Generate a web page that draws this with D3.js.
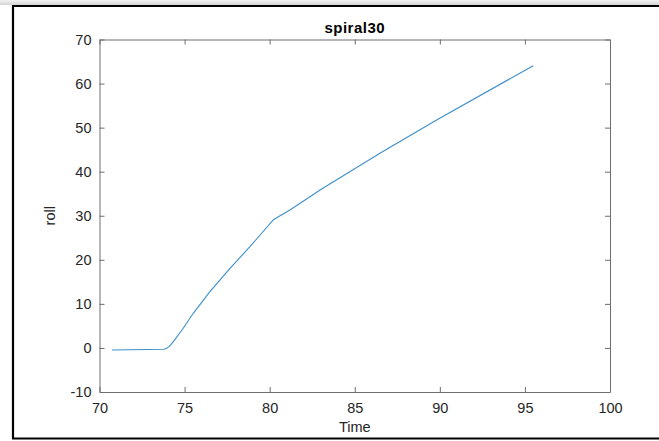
<!DOCTYPE html>
<html>
<head>
<meta charset="utf-8">
<script src="https://cdn.jsdelivr.net/npm/d3@7"></script>
<style>
  body { margin: 0; background: #fff; }
  svg { display: block; font-family: "Liberation Sans", Arial, sans-serif; }
</style>
</head>
<body>
<div id="chart"></div>
<script>
// data (Time vs roll)
const time = [70.73, 73.79, 73.95, 74.1, 74.34, 74.92, 75.51, 76.49, 77.67, 78.84, 80.21, 80.51, 81.19, 82.08, 82.96, 86.48, 89.81, 95.49];
const roll = [-0.47, -0.3, -0.1, 0.35, 1.42, 4.46, 7.86, 12.76, 18.08, 22.98, 29.04, 29.79, 31.31, 33.58, 35.85, 44.18, 51.73, 64.06];
const xTicks = [70, 75, 80, 85, 90, 95, 100];
const yTicks = [-10, 0, 10, 20, 30, 40, 50, 60, 70];

const width = 659;
const height = 441;
const margin = { top: 39.5, right: 49, bottom: 49, left: 99.5 };

const svg = d3.select('#chart')
    .append('svg')
    .attr('width', width)
    .attr('height', height);

// grey shadow at the top and the black frame of the screenshot
const grad = svg.append('defs').append('linearGradient')
    .attr('id', 'shade').attr('x1', 0).attr('y1', 0).attr('x2', 0).attr('y2', 1);
grad.append('stop').attr('offset', '0%').attr('stop-color', '#f2f2f2');
grad.append('stop').attr('offset', '100%').attr('stop-color', '#d4d4d4');
svg.append('rect').attr('x', 0).attr('y', 0).attr('width', width).attr('height', 5).attr('fill', 'url(#shade)');
svg.append('path')
    .attr('d', `M${width + 2},6 H13 V438.5 H${width + 2}`)
    .attr('fill', 'none')
    .attr('stroke', '#000')
    .attr('stroke-width', 2.2);

const x = d3.scaleLinear()
    .domain([70, 100])
    .range([margin.left, width - margin.right]);

const y = d3.scaleLinear()
    .domain([-10, 70])
    .range([height - margin.bottom, margin.top]);

const axisColor = '#6e6e6e';
const textColor = '#262626';
const plain = d => String(d); // hyphen minus like matlab, not the unicode one

// the curve
svg.append('path')
    .datum(d3.range(time.length))
    .attr('fill', 'none')
    .attr('stroke', '#3d8fcb')
    .attr('stroke-width', 1.1)
    .attr('d', d3.line().x(i => x(time[i])).y(i => y(roll[i])));

// axes with ticks pointing inward, box on
function styleAxis(g) {
    g.select('.domain').attr('stroke', axisColor);
    g.selectAll('.tick line').attr('stroke', axisColor);
    g.selectAll('.tick text').attr('fill', textColor).attr('font-size', '14.5px');
}

svg.append('g')
    .attr('transform', `translate(0, ${y(-10)})`)
    .call(d3.axisBottom(x).tickValues(xTicks).tickSize(-5).tickSizeOuter(0).tickPadding(11).tickFormat(plain))
    .call(styleAxis);

svg.append('g')
    .attr('transform', `translate(0, ${y(70)})`)
    .call(d3.axisTop(x).tickValues(xTicks).tickSize(-5).tickSizeOuter(0).tickFormat(''))
    .call(styleAxis);

svg.append('g')
    .attr('transform', `translate(${x(70)}, 0)`)
    .call(d3.axisLeft(y).tickValues(yTicks).tickSize(-5).tickSizeOuter(0).tickPadding(8).tickFormat(plain))
    .call(styleAxis);

svg.append('g')
    .attr('transform', `translate(${x(100)}, 0)`)
    .call(d3.axisRight(y).tickValues(yTicks).tickSize(-5).tickSizeOuter(0).tickFormat(''))
    .call(styleAxis);

// labels
svg.append('text')
    .attr('x', (x(70) + x(100)) / 2)
    .attr('y', 33)
    .attr('text-anchor', 'middle')
    .attr('font-size', '15px')
    .attr('letter-spacing', '0.5px')
    .attr('font-weight', 'bold')
    .attr('fill', '#000')
    .text('spiral30');

svg.append('text')
    .attr('x', (x(70) + x(100)) / 2)
    .attr('y', 432)
    .attr('text-anchor', 'middle')
    .attr('font-size', '14.5px')
    .attr('fill', textColor)
    .text('Time');

svg.append('text')
    .attr('transform', `translate(55, ${(y(-10) + y(70)) / 2}) rotate(-90)`)
    .attr('text-anchor', 'middle')
    .attr('font-size', '14.5px')
    .attr('fill', textColor)
    .text('roll');
</script>
</body>
</html>
